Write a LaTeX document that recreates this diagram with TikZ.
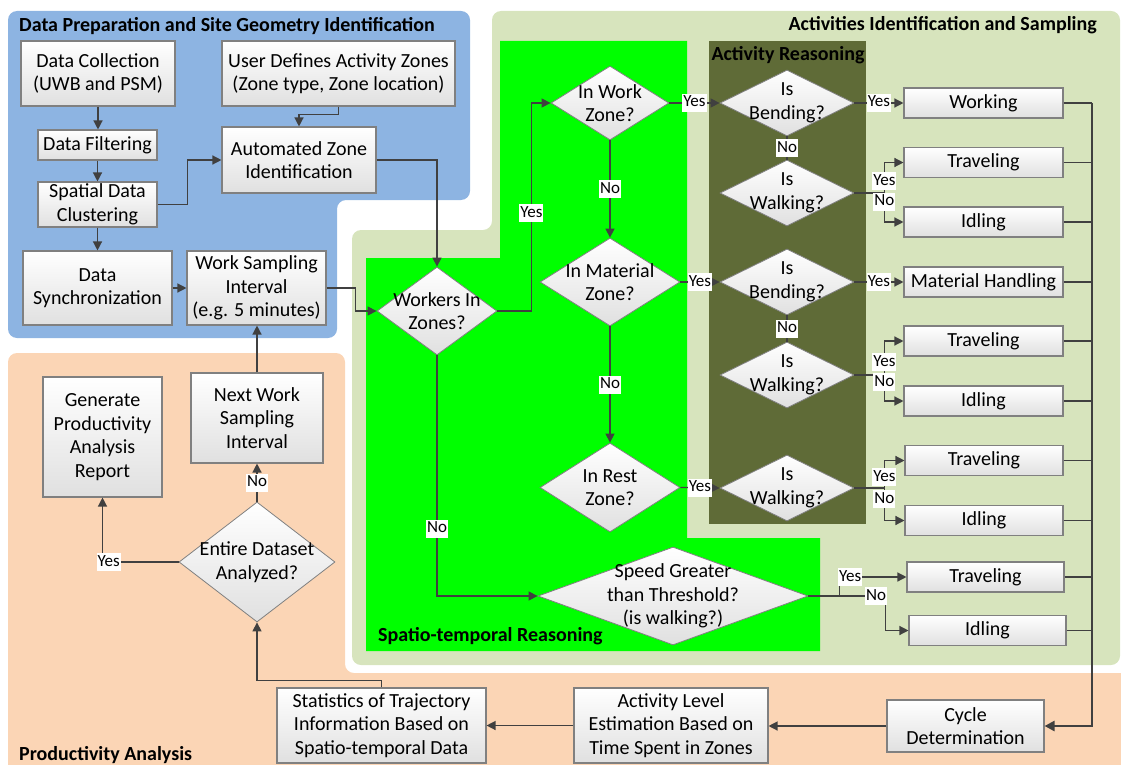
\documentclass[tikz,border=0pt]{standalone}
\usepackage{fontspec}
\setmainfont{Carlito}
\usetikzlibrary{arrows.meta,shapes.geometric,calc}

\definecolor{prepblue}{HTML}{8DB4E2}
\definecolor{actgreen}{HTML}{D7E4BD}
\definecolor{prodpeach}{HTML}{FBD5B5}
\definecolor{stgreen}{HTML}{00FF00}
\definecolor{reasonolive}{HTML}{5F6B37}
\definecolor{edgegray}{HTML}{404040}
\definecolor{boxline}{HTML}{808080}
\definecolor{boxshade}{HTML}{E0E0E0}

\tikzset{
  txt/.style={font=\fontsize{20}{23.5}\selectfont},
  title/.style={font=\fontsize{20}{23.5}\selectfont\bfseries, inner sep=0pt},
  box/.style={draw=boxline, line width=1.1pt, top color=white, bottom color=boxshade,
    align=center, inner sep=0pt, txt},
  decision/.style={diamond, draw=boxline, line width=0.8pt, top color=white,
    bottom color=boxshade, inner sep=0pt},
  tip/.style={-{Triangle[length=9pt,width=9pt]}},
  arr/.style={draw=edgegray, line width=1.3pt, tip},
  link/.style={draw=edgegray, line width=1.3pt},
  branch/.style={draw=edgegray, line width=1.6pt},
  bus/.style={draw=edgegray, line width=2.5pt, -{Triangle[length=10pt,width=10pt]}},
  lbl/.style={fill=white, inner xsep=1pt, inner ysep=1.5pt, text height=11.5pt,
    text depth=3.5pt, font=\fontsize{17}{17}\selectfont},
  dlabel/.style={label={[txt, align=center]center:#1}},
}

\begin{document}
\begin{tikzpicture}[x=1pt, y=-1pt]
\useasboundingbox (0,0) rectangle (1121,765);

% group backgrounds
\fill[prepblue, rounded corners=9pt] (8,11) -- (470,11) -- (470,200) -- (337,200)
  -- (337,338) -- (8,338) -- cycle;
\fill[actgreen, rounded corners=9pt] (492,11) -- (1120,11) -- (1120,665) -- (352,665)
  -- (352,230) -- (492,230) -- cycle;
\fill[prodpeach, rounded corners=9pt] (8,353) -- (345,353) -- (345,673) -- (1140,673)
  -- (1140,790) -- (8,790) -- cycle;
\fill[stgreen] (500,41) -- (687,41) -- (687,538) -- (820,538) -- (820,651) -- (366,651)
  -- (366,258) -- (500,258) -- cycle;
\fill[reasonolive] (709,41) rectangle (866,524);

% group titles
\node[title, anchor=west] (tprep) at (19,26) {Data Preparation and Site Geometry Identification};
\node[title, anchor=east] (tact) at (1097,25) {Activities Identification and Sampling};
\node[title] (treason) at (788,55) {Activity Reasoning};
\node[title, anchor=west] (tst) at (378,636) {Spatio-temporal Reasoning};
\node[title, anchor=west] (tprod) at (19,755) {Productivity Analysis};

% data preparation
\node[box, minimum width=154pt, minimum height=65pt] (dc) at (98,73.5) {Data Collection\\(UWB and PSM)};
\node[box, minimum width=233pt, minimum height=65pt] (ud) at (338.5,73.5) {User Defines Activity Zones\\(Zone type, Zone location)};
\node[box, minimum width=119pt, minimum height=30pt] (df) at (97.5,145) {Data Filtering};
\node[box, minimum width=119pt, minimum height=45pt] (sdc) at (97.5,204.5) {Spatial Data\\Clustering};
\node[box, minimum width=154pt, minimum height=66pt] (azi) at (299,160) {Automated Zone\\Identification};
\node[box, minimum width=149pt, minimum height=74pt] (dsync) at (97.5,288) {Data\\Synchronization};
\node[box, minimum width=139pt, minimum height=74pt] (wsi) at (256.5,288) {Work Sampling\\Interval\\(e.g. 5 minutes)};

% spatio-temporal reasoning
\node[decision, minimum width=120pt, minimum height=88pt, dlabel={Workers In\\Zones?}] (wz) at (437,311) {};
\node[decision, minimum width=118pt, minimum height=74pt, dlabel={In Work\\Zone?}] (iwz) at (610,103) {};
\node[decision, minimum width=140pt, minimum height=88pt, dlabel={In Material\\Zone?}] (imz) at (610,282) {};
\node[decision, minimum width=140pt, minimum height=89pt, dlabel={In Rest\\Zone?}] (irz) at (610,487.5) {};
\node[decision, minimum width=270pt, minimum height=98pt, dlabel={Speed Greater\\than Threshold?\\(is walking?)}] (sgt) at (673,596) {};

% activity reasoning
\node[decision, minimum width=134pt, minimum height=66pt, dlabel={Is\\Bending?}] (ib1) at (787,103) {};
\node[decision, minimum width=134pt, minimum height=66pt, dlabel={Is\\Walking?}] (iw1) at (787,193) {};
\node[decision, minimum width=134pt, minimum height=66pt, dlabel={Is\\Bending?}] (ib2) at (787,282) {};
\node[decision, minimum width=134pt, minimum height=66pt, dlabel={Is\\Walking?}] (iw2) at (787,375) {};
\node[decision, minimum width=134pt, minimum height=66pt, dlabel={Is\\Walking?}] (iw3) at (787,488) {};

% activity outcomes
\node[box, minimum width=159pt, minimum height=30pt] (work) at (983.5,103) {Working};
\node[box, minimum width=159pt, minimum height=30pt] (trav1) at (983.5,162.5) {Traveling};
\node[box, minimum width=159pt, minimum height=30pt] (idl1) at (983.5,222) {Idling};
\node[box, minimum width=159pt, minimum height=30pt] (mh) at (983.5,282) {Material Handling};
\node[box, minimum width=159pt, minimum height=30pt] (trav2) at (983.5,341) {Traveling};
\node[box, minimum width=159pt, minimum height=30pt] (idl2) at (983.5,401) {Idling};
\node[box, minimum width=158pt, minimum height=30pt] (trav3) at (984,460.5) {Traveling};
\node[box, minimum width=158pt, minimum height=30pt] (idl3) at (984,520.5) {Idling};
\node[box, minimum width=157pt, minimum height=30pt] (trav4) at (985.5,577) {Traveling};
\node[box, minimum width=157pt, minimum height=30pt] (idl4) at (987.5,630.5) {Idling};

% productivity analysis
\node[box, minimum width=157pt, minimum height=52pt] (cyc) at (965.5,726) {Cycle\\Determination};
\node[box, minimum width=194pt, minimum height=75pt] (act) at (671,725.5) {Activity Level\\Estimation Based on\\Time Spent in Zones};
\node[box, minimum width=209pt, minimum height=75pt] (stat) at (381.5,725.5) {Statistics of Trajectory\\Information Based on\\Spatio-temporal Data};
\node[decision, minimum width=156pt, minimum height=120pt, dlabel={Entire Dataset\\Analyzed?}] (eda) at (257,562) {};
\node[box, minimum width=119pt, minimum height=120pt] (gen) at (102.5,437) {Generate\\Productivity\\Analysis\\Report};
\node[box, minimum width=132pt, minimum height=90pt] (nws) at (257,418) {Next Work\\Sampling\\Interval};

% data preparation flow
\draw[arr] (dc.south) -- (dc.south |- df.north);
\draw[arr] (df.south) -- (sdc.north);
\draw[arr] (sdc.south) -- (dsync.north);
\draw[arr] (sdc.east) -- ++(30,0) |- (azi.west);
\draw[arr] (ud.south) -- ++(0,8) -| (azi.north);
\draw[arr] (azi.east) -| (wz.north);
\draw[arr] (dsync.east) -- (wsi.west);
\draw[arr] (wsi.east) -- ++(29,0) |- (wz.west);

% zone reasoning
\draw[arr] (wz.east) -- ++(34,0) |- node[lbl, pos=0.235] {Yes} (iwz.west);
\draw[arr] (wz.south) |- node[lbl, pos=0.36] {No} (sgt.west);
\draw[arr] (iwz.south) -- node[lbl] {No} (imz.north);
\draw[arr] (imz.south) -- node[lbl] {No} (irz.north);
\draw[arr] (iwz.east) -- node[lbl] {Yes} (ib1.west);
\draw[arr] (imz.east) -- node[lbl] {Yes} (ib2.west);
\draw[arr] (irz.east) -- node[lbl] {Yes} (iw3.west);

% activity reasoning
\draw[link] (ib1.south) -- node[lbl] {No} (iw1.north);
\draw[link] (ib2.south) -- node[lbl] {No} (iw2.north);
\draw[arr] (ib1.east) -- node[lbl] {Yes} (work.west);
\draw[arr] (ib2.east) -- node[lbl] {Yes} (mh.west);
\draw[arr] (iw1.east) -- ++(30,0) |- node[lbl, pos=0.19] {Yes} (trav1.west);
\draw[arr] (iw1.east) -- ++(30,0) |- node[lbl, pos=0.155] {No} (idl1.west);
\draw[arr] (iw2.east) -- ++(30,0) |- node[lbl, pos=0.19] {Yes} (trav2.west);
\draw[arr] (iw2.east) -- ++(30,0) |- node[lbl, pos=0.135] {No} (idl2.west);
\draw[arr] (iw3.east) -- ++(30,0) |- node[lbl, pos=0.2] {Yes} (trav3.west);
\draw[arr] (iw3.east) -- ++(30,0) |- node[lbl, pos=0.17] {No} (idl3.west);
\draw[arr] (sgt.east) -- ++(31,0) |- node[lbl, pos=0.58] {Yes} (trav4.west);
\draw[arr] (sgt.east) -- node[lbl, pos=0.88] {No} ++(77,0) |- (idl4.west);

% collecting outcomes into the cycle determination
\coordinate (bustop) at (1092,103);
\coordinate (busend) at (1092,726);
\foreach \n in {work,trav1,idl1,mh,trav2,idl2,trav3,idl3,trav4,idl4}
  \draw[branch] (\n.east) -- (\n.east -| busend);
\draw[bus] (bustop) -- (busend) -- (cyc.east);

% productivity analysis flow
\draw[arr] (cyc.west) -- (cyc.west -| act.east);
\draw[arr] (act.west) -- (act.west -| stat.east);
\draw[arr] (stat.north) -- ++(0,-7) -| (eda.south);
\draw[arr] (eda.west) -| node[lbl, pos=0.46] {Yes} (gen.south);
\draw[arr] (eda.north) -- node[lbl] {No} (nws.south);
\draw[arr] (nws.north) -- (nws.north |- wsi.south);
\end{tikzpicture}
\end{document}
